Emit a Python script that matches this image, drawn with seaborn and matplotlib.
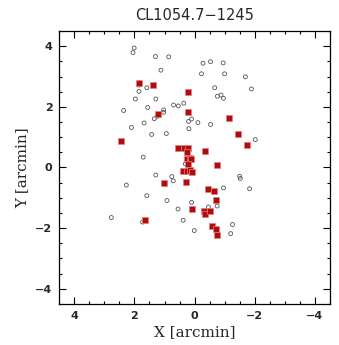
import numpy as np
import pandas as pd
import matplotlib
matplotlib.use("Agg")
import matplotlib.pyplot as plt
import seaborn as sns
from matplotlib.ticker import MultipleLocator

# Open circles (all galaxies)
circ_x = [2.01, 2.05, 1.30, 0.86, 1.12, 1.85, 1.59, 1.85, 1.97, 1.29, 1.56, 0.70, 0.54, 0.36, 1.03, 2.36,
          -0.28, -0.53, -0.95, -0.23, -1.00, -1.69, -0.67, -1.89, -0.76, -0.88, -0.96,
          1.03, 1.24, 1.34, 1.68, 2.10, 1.43, 0.94, 0.20, 0.10, 0.19, -0.11, -0.53, -2.02,
          1.71, 0.23, 0.31, 1.29, 0.76, 0.71, -1.50, -1.52, 2.27, 1.59, 0.92, 0.55, 0.38, 2.77, 1.73,
          -0.96, -1.83, 0.10, -0.46, -0.75, 0.01, -1.26, -1.20]
circ_y = [3.94, 3.79, 3.66, 3.65, 3.21, 2.72, 2.63, 2.51, 2.26, 2.26, 1.98, 2.06, 2.03, 2.12, 1.90, 1.88,
          3.44, 3.49, 3.45, 3.09, 3.09, 2.99, 2.63, 2.59, 2.35, 2.39, 2.28,
          1.82, 1.69, 1.61, 1.47, 1.32, 1.09, 1.12, 1.52, 1.60, 1.28, 1.48, 1.42, 0.92,
          0.34, 0.42, 0.12, -0.25, -0.30, -0.44, -0.29, -0.36, -0.58, -0.93, -1.09, -1.37, -1.74, -1.65, -1.80,
          -0.67, -0.70, -1.15, -1.30, -1.27, -2.08, -1.88, -2.18]

# Filled red squares (members)
sq_x = [1.84, 1.39, 0.22, 1.22, 0.21, 2.44, -1.15, -1.44, -1.73,
        0.56, 0.34, 0.22, 0.24, 0.26, 0.16, 0.11, 0.22, -0.34, -0.73,
        0.40, 0.26, 0.16, 0.08, 1.03, 0.28, 1.66, -0.46, -0.63, -0.72, 0.07,
        -0.30, -0.33, -0.52, -0.57, -0.70, -0.76]
sq_y = [2.79, 2.72, 2.48, 1.77, 1.83, 0.89, 1.63, 1.10, 0.73,
        0.64, 0.64, 0.64, 0.50, 0.27, 0.31, 0.29, 0.12, 0.54, 0.09,
        -0.11, -0.12, -0.08, -0.16, -0.51, -0.47, -1.73, -0.70, -0.76, -1.06, -1.37,
        -1.42, -1.55, -1.45, -1.93, -2.03, -2.21]

title = "CL1054.7\u22121245"
xlabel = "X [arcmin]"
ylabel = "Y [arcmin]"

sns.set_style("ticks")
plt.rcParams['font.family'] = ['DejaVu Sans']

fig = plt.figure(figsize=(3.39, 3.45), dpi=100)
ax = fig.add_axes([0.175, 0.119, 0.798, 0.791])

df_c = pd.DataFrame({"x": circ_x, "y": circ_y})
df_s = pd.DataFrame({"x": sq_x, "y": sq_y})

sns.scatterplot(data=df_c, x="x", y="y", ax=ax, marker="o", s=8,
                facecolor="none", edgecolor="#555555", linewidth=0.6, zorder=2)
sns.scatterplot(data=df_s, x="x", y="y", ax=ax, marker="s", s=13,
                color="#b00c0c", edgecolor="#e08080", linewidth=0.5, zorder=3)

ax.set_xlim(4.5, -4.5)
ax.set_ylim(-4.5, 4.5)
ax.xaxis.set_major_locator(MultipleLocator(2))
ax.xaxis.set_minor_locator(MultipleLocator(0.5))
ax.yaxis.set_major_locator(MultipleLocator(2))
ax.yaxis.set_minor_locator(MultipleLocator(0.5))
ax.tick_params(which="both", direction="in", top=True, right=True, color="black", width=0.8)
ax.tick_params(which="major", length=5, labelsize=8, pad=5)
ax.tick_params(which="minor", length=2.5)
for lab in ax.get_xticklabels() + ax.get_yticklabels():
    lab.set_fontweight("bold")
for sp in ax.spines.values():
    sp.set_visible(True)
    sp.set_linewidth(0.9)
    sp.set_color("black")

ax.set_xlabel(xlabel, fontsize=11, family="DejaVu Serif", labelpad=3)
ax.set_ylabel(ylabel, fontsize=11, family="DejaVu Serif", labelpad=4)
ax.set_title(title, fontsize=10.5, pad=8)

fig.savefig("out.png", dpi=100)
